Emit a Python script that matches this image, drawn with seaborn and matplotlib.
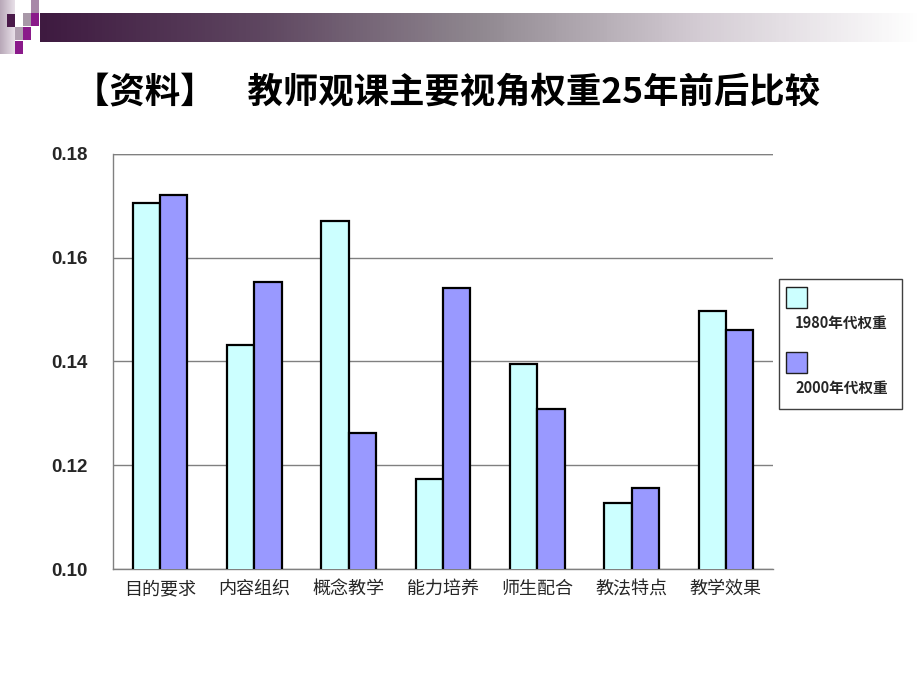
import numpy as np
import pandas as pd
import matplotlib
matplotlib.use("Agg")
import matplotlib.pyplot as plt
import seaborn as sns
from matplotlib.patches import Rectangle
from matplotlib.colors import LinearSegmentedColormap

categories = ["目的要求", "内容组织", "概念教学", "能力培养", "师生配合", "教法特点", "教学效果"]
w1980 = [0.1706, 0.1432, 0.1671, 0.1173, 0.1395, 0.1127, 0.1497]
w2000 = [0.1721, 0.1553, 0.1262, 0.1542, 0.1308, 0.1156, 0.1461]
series = ["1980年代权重", "2000年代权重"]
yticks = [0.10, 0.12, 0.14, 0.16, 0.18]
title = "【资料】    教师观课主要视角权重25年前后比较"

sns.set_theme(style="white")
plt.rcParams['font.family'] = ['Noto Sans CJK SC', 'DejaVu Sans']

df = pd.DataFrame({
    "cat": categories * 2,
    "val": w1980 + w2000,
    "series": [series[0]] * len(categories) + [series[1]] * len(categories),
})
colors = {series[0]: "#CCFFFF", series[1]: "#9999FF"}

fig = plt.figure(figsize=(9.2, 6.9), dpi=100)
fig.patch.set_facecolor("white")

# decorative header band
band = fig.add_axes([40/920, 1-42/690, 880/920, 29/690])
grad = np.linspace(0, 1, 256)[None, :]
cmap = LinearSegmentedColormap.from_list("hdr", ["#3e1a40", "#5e4660", "#908890", "#d4ccd4", "#ffffff"])
band.imshow(grad, aspect="auto", cmap=cmap, extent=[0, 1, 0, 1])
band.axis("off")
left = fig.add_axes([0, 1-54/690, 15/920, 54/690])
left.imshow(np.linspace(0, 1, 64)[None, :], aspect="auto",
            cmap=LinearSegmentedColormap.from_list("l", ["#b8a8b8", "#e8e0e8"]), extent=[0, 1, 0, 1])
left.axis("off")
sq = [(7, 14, "#4a1a4a"), (31, 0, "#a888a8"), (31, 13, "#8a1a8a"), (23, 13, "#a898a8"),
      (23, 27, "#8a1a8a"), (15, 27, "#b0a0b0"), (15, 41, "#8a1a8a")]
for x, y, c in sq:
    fig.patches.append(Rectangle((x/920, 1-(y+13)/690), 8/920, 13/690,
                                 transform=fig.transFigure, facecolor=c, edgecolor="none", zorder=5))

fig.text(74/920, 1-93/690, title, fontsize=25.5, fontweight="bold", ha="left", va="center", color="black")

ax = fig.add_axes([113/920, 1-569/690, 660/920, 415/690])
sns.barplot(data=df, x="cat", y="val", hue="series", palette=colors, ax=ax, saturation=1,
            width=0.58, gap=0, edgecolor="black", linewidth=1.6, legend=False, zorder=3)
ax.set_ylim(0.10, 0.18)
ax.set_yticks(yticks)
ax.set_yticklabels([f"{v:.2f}" for v in yticks], fontsize=13.5, fontweight="bold",
                   family=["Liberation Sans", "DejaVu Sans"])
ax.tick_params(axis="y", length=0, pad=18)
ax.tick_params(axis="x", length=0, pad=8, labelsize=13)
ax.set_xlabel("")
ax.set_ylabel("")
ax.yaxis.grid(True, color="#808080", linewidth=1)
ax.set_axisbelow(True)
for s in ["top", "right"]:
    ax.spines[s].set_visible(False)
for s in ["left", "bottom"]:
    ax.spines[s].set_color("#808080")
    ax.spines[s].set_linewidth(1)
ax.axhline(0.18, color="#808080", linewidth=1, zorder=1)
ax.set_xlim(-0.5, len(categories) - 0.5)

# legend box
fig.patches.append(Rectangle((779/920, 1-409/690), 123/920, 130/690, transform=fig.transFigure,
                             facecolor="white", edgecolor="#404040", linewidth=1, zorder=5))
for i, s in enumerate(series):
    py = 287 + 65 * i
    fig.patches.append(Rectangle((786/920, 1-(py+21)/690), 21/920, 21/690, transform=fig.transFigure,
                                 facecolor=colors[s], edgecolor="#202020", linewidth=1, zorder=6))
    fig.text(795/920, 1-(py+36)/690, s, fontsize=10.5, fontweight="bold", ha="left", va="center", zorder=7)

fig.savefig("out.png", dpi=100)
